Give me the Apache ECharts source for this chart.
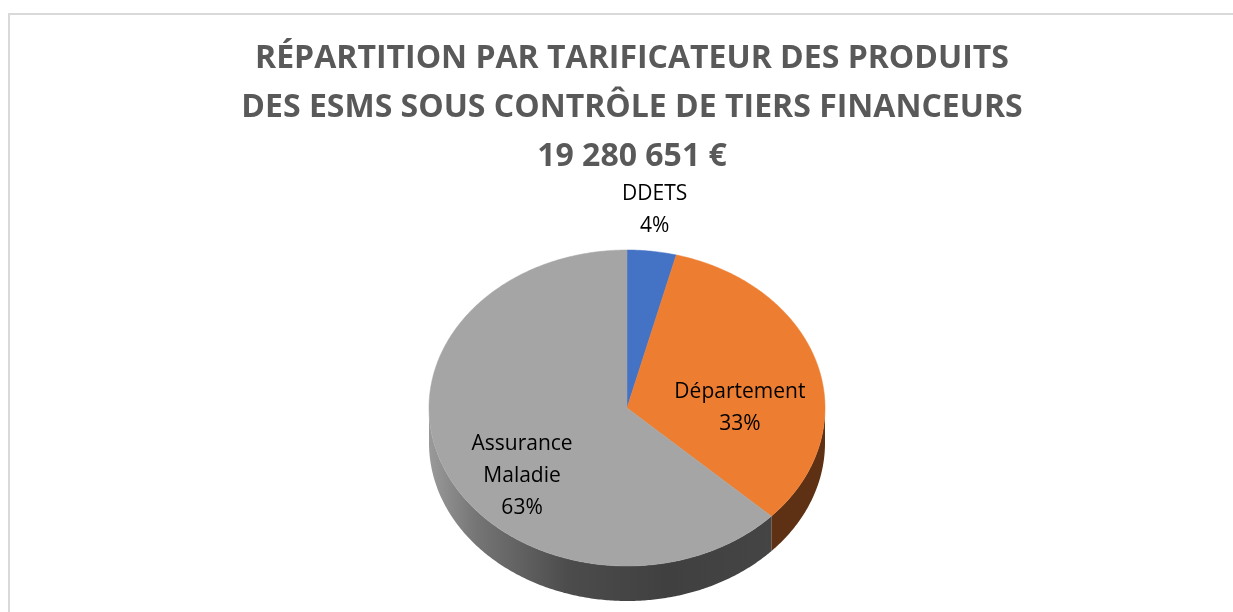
<!DOCTYPE html>
<html>
<head>
<meta charset="utf-8">
<script src="https://cdn.jsdelivr.net/npm/echarts@6/dist/echarts.min.js"></script>
<style>
  html, body { margin: 0; padding: 0; background: #fff; }
  #chart { width: 1233px; height: 612px; }
</style>
</head>
<body>
<div id="chart"></div>
<script>
(function() {
  // data (shares in %)
  var names = ['DDETS', 'Département', 'Assurance Maladie'];
  var shares = [4, 33, 63];
  var labelText = ['DDETS', 'Département', 'Assurance\nMaladie'];
  var titleLines = [
    'RÉPARTITION PAR TARIFICATEUR DES PRODUITS',
    'DES ESMS SOUS CONTRÔLE DE TIERS FINANCEURS',
    '19 280 651 €'
  ];

  // styling
  var topColors = ['#4472c4', '#ed7d31', '#a5a5a5'];
  // label anchor, in radius units from the pie centre
  var labelAt = [[0.14, -1.255], [0.57, 0.0], [-0.53, 0.43]];

  var cx = 627, cy = 408, rx = 198, ry = 158, depth = 35;

  var total = shares.reduce(function(s, v) { return s + v; }, 0);
  var cum = [0];
  shares.forEach(function(v, i) { cum.push(cum[i] + v); });

  function pt(t, dy) {
    return [cx + rx * Math.sin(t), cy - ry * Math.cos(t) + (dy || 0)];
  }
  function arc(a, b, dy) {
    var pts = [];
    var n = Math.max(2, Math.ceil((b - a) / 0.01));
    for (var k = 0; k <= n; k++) pts.push(pt(a + (b - a) * k / n, dy));
    return pts;
  }

  function wallFill(i) {
    if (i === 2) {
      return new echarts.graphic.LinearGradient(cx - rx, 0, cx + rx, 0, [
        { offset: 0, color: '#9a9a9a' },
        { offset: 0.12, color: '#757575' },
        { offset: 0.35, color: '#4c4c4c' },
        { offset: 0.6, color: '#404040' },
        { offset: 1, color: '#474747' }
      ], true);
    }
    if (i === 1) return '#5e3114';
    return '#26467f';
  }

  function renderItem(params, api) {
    var i = params.dataIndex;
    var a = cum[i] / total * Math.PI * 2;
    var b = a + api.value(0) / total * Math.PI * 2;
    var children = [];

    var fa = Math.max(a, Math.PI / 2), fb = Math.min(b, Math.PI * 1.5);
    if (fa < fb) {
      var wall = arc(fa, fb, 0).concat(arc(fa, fb, depth).reverse());
      children.push({
        type: 'polygon',
        shape: { points: wall },
        style: { fill: wallFill(i), stroke: null }
      });
    }

    children.push({
      type: 'polygon',
      shape: { points: [[cx, cy]].concat(arc(a, b, 0)) },
      style: { fill: topColors[i], stroke: topColors[i], lineWidth: 0.5 }
    });

    children.push({
      type: 'text',
      x: cx + labelAt[i][0] * rx,
      y: cy + labelAt[i][1] * ry,
      style: {
        text: labelText[i] + '\n' + Math.round(api.value(0) / total * 100) + '%',
        fill: '#000',
        font: '21px "Open Sans"',
        align: 'center',
        verticalAlign: 'middle',
        lineHeight: 32
      }
    });

    return { type: 'group', children: children };
  }

  var chart = echarts.init(document.getElementById('chart'), null, { renderer: 'canvas' });
  chart.setOption({
    animation: false,
    title: {
      text: titleLines.join('\n'),
      left: 627,
      textAlign: 'center',
      top: 29,
      textStyle: {
        fontFamily: 'Open Sans',
        fontWeight: 'bold',
        fontSize: 32,
        color: '#595959',
        lineHeight: 49
      }
    },
    graphic: [{
      type: 'rect',
      shape: { x: 9, y: 14, width: 1400, height: 800 },
      style: { fill: null, stroke: '#d9d9d9', lineWidth: 2 },
      silent: true
    }],
    series: [{
      type: 'custom',
      coordinateSystem: 'none',
      renderItem: renderItem,
      data: shares.map(function(v, i) { return { name: names[i], value: [v] }; })
    }]
  });
})();
</script>
</body>
</html>
